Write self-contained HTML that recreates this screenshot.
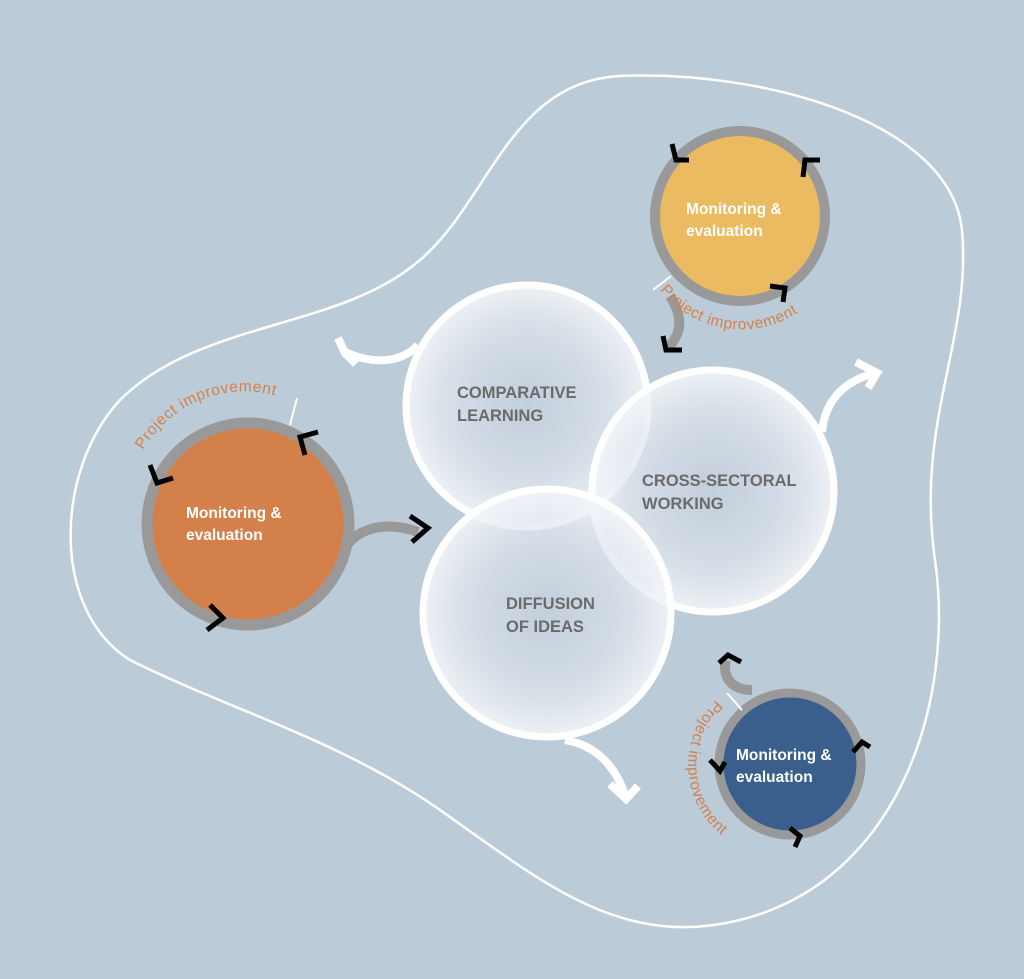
<!DOCTYPE html>
<html><head><meta charset="utf-8"><style>
html,body{margin:0;padding:0;background:#bccbd8;}
svg{display:block;}
text{font-family:"Liberation Sans",sans-serif;}
</style></head><body>
<svg width="1024" height="979" viewBox="0 0 1024 979" xmlns="http://www.w3.org/2000/svg">
<defs>
<radialGradient id="g" cx="50%" cy="50%" r="50%">
<stop offset="0" stop-color="#c8d2de" stop-opacity="0.55"/>
<stop offset="0.7" stop-color="#e2e8ef" stop-opacity="0.75"/>
<stop offset="1" stop-color="#f4f6f9" stop-opacity="0.9"/>
</radialGradient>
<path id="pL" d="M143,450 A118,118 0 0 1 300,405"/>
<path id="pT" d="M660,290 A104,104 0 0 0 830,280"/>
<path id="pB" d="M716,700 A90,90 0 0 0 775,855"/>
</defs>
<rect width="1024" height="979" fill="#bccbd8"/>
<path d="M620,76 C760,70 950,120 962,230 C972,340 915,420 935,560 C955,700 900,880 740,920 C620,950 540,880 440,810 C340,740 230,710 130,660 C50,610 55,470 120,400 C200,320 340,330 420,260 C490,200 510,82 620,76 Z" fill="none" stroke="#fff" stroke-width="2.5"/>
<g fill="none" stroke="#fff" stroke-width="8" stroke-linecap="butt">
<path d="M418,345 C400,364 372,364 345,352"/>
<path d="M338,338 L345,353 L356,364"/>
<path d="M822,432 C825,400 845,380 876,373"/>
<path d="M856,362 L877,373 L868,388"/>
<path d="M565,740 C595,745 615,765 625,795"/>
<path d="M610,784 L626,799 L638,786"/>
</g>
<circle cx="527" cy="406" r="121" fill="url(#g)" stroke="#fff" stroke-width="7"/>
<circle cx="713" cy="491" r="121" fill="url(#g)" stroke="#fff" stroke-width="7"/>
<circle cx="547" cy="613" r="124" fill="url(#g)" stroke="#fff" stroke-width="7"/>
<g fill="#6b6b6b" font-size="16.5" font-weight="bold">
<text x="457" y="398">COMPARATIVE</text><text x="457" y="421">LEARNING</text>
<text x="642" y="486">CROSS-SECTORAL</text><text x="642" y="509">WORKING</text>
<text x="506" y="609">DIFFUSION</text><text x="506" y="632">OF IDEAS</text>
</g>
<g fill="none" stroke="#999" stroke-width="10">
<path d="M345,548 C360,525 390,522 418,532"/>
<path d="M670,296 C685,320 680,335 668,348"/>
<path d="M752,690 C730,690 722,675 726,660"/>
</g>
<circle cx="248" cy="524" r="101" fill="#d4804a" stroke="#999" stroke-width="11"/>
<circle cx="740" cy="216" r="85" fill="#ebbb62" stroke="#999" stroke-width="10"/>
<circle cx="790" cy="764" r="71" fill="#3a5f8c" stroke="#999" stroke-width="9"/>
<g fill="#fff" font-size="15.5" font-weight="bold">
<text x="186" y="518">Monitoring &amp;</text><text x="186" y="540">evaluation</text>
<text x="686" y="214">Monitoring &amp;</text><text x="686" y="236">evaluation</text>
<text x="736" y="760">Monitoring &amp;</text><text x="736" y="782">evaluation</text>
</g>
<g stroke="#fff" stroke-width="2">
<line x1="297" y1="398" x2="290" y2="425"/>
<line x1="671" y1="276" x2="653" y2="290"/>
<line x1="727" y1="693" x2="742" y2="710"/>
</g>
<g fill="#d4804a" font-size="15.5" letter-spacing="0.6">
<text><textPath href="#pL">Project improvement</textPath></text>
<text><textPath href="#pT">Project improvement</textPath></text>
<text><textPath href="#pB">Project improvement</textPath></text>
</g>
<g fill="none" stroke="#000" stroke-width="5" stroke-linecap="butt">
<polyline points="150,465 157,483 173,478"/>
<polyline points="318,432 300,437 305,455"/>
<polyline points="210,605 223,618 207,630"/>
<polyline points="410,516 428,528 412,542"/>
<polyline points="672,144 676,160 689,160"/>
<polyline points="820,160 805,160 803,177"/>
<polyline points="770,286 785,288 783,302"/>
<polyline points="663,336 666,350 682,350"/>
<polyline points="719,663 728,655 741,662"/>
<polyline points="870,747 862,742 853,752"/>
<polyline points="710,760 720,771 725,762"/>
<polyline points="790,828 800,836 795,847"/>
</g>
</svg>
</body></html>
